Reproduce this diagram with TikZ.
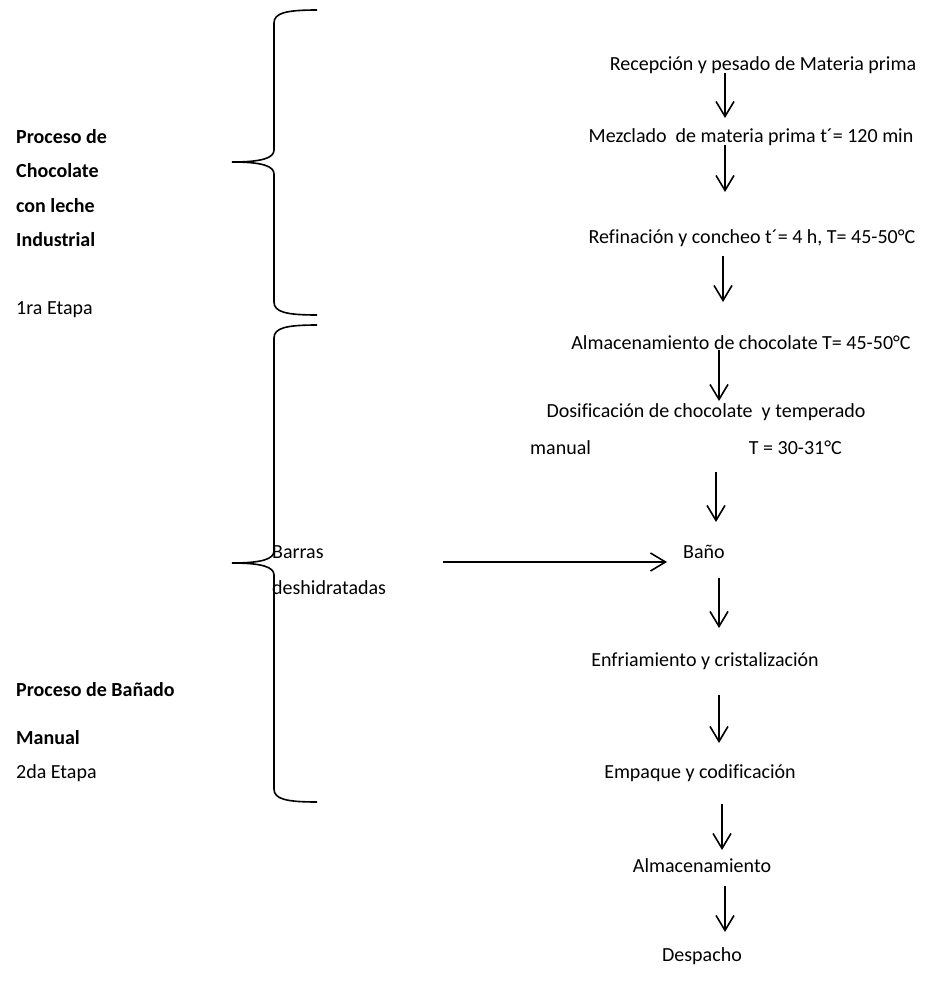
\documentclass[tikz,border=0pt]{standalone}
\usepackage{fontspec}
\setmainfont{Carlito}[Ligatures=NoCommon]
\usetikzlibrary{arrows.meta}
\begin{document}
\begin{tikzpicture}[x=1pt,y=-1pt,
  txt/.style={inner sep=0pt,anchor=base,font=\fontsize{20}{36}\selectfont},
  ltxt/.style={inner sep=0pt,anchor=base west,font=\fontsize{20}{36}\selectfont},
  btxt/.style={inner sep=0pt,anchor=base west,font=\fontsize{20}{34.5}\selectfont\bfseries,align=left},
  arr/.style={line width=1.6pt,-{Straight Barb[length=15pt,width=18pt,line width=1.6pt]}},
  brace/.style={line width=1.6pt}]
\useasboundingbox (0,0) rectangle (945,991);
% process steps
\node[txt] (s1) at (763,70) {Recepción y pesado de Materia prima};
\node[txt] (s2) at (751,142) {Mezclado\ \ de materia prima t´= 120 min};
\node[txt] (s3) at (752,243) {Refinación y concheo t´= 4 h, T= 45-50°C};
\node[txt] (s4) at (741,349) {Almacenamiento de chocolate T= 45-50°C};
\node[txt] (s5) at (706,417) {Dosificación de chocolate\ \ y temperado};
\node[ltxt] (s5b) at (530,454) {manual\hspace{158pt}T = 30-31°C};
\node[txt] (s6) at (704,558) {Baño};
\node[txt] (s7) at (705,666) {Enfriamiento y cristalización};
\node[txt] (s8) at (700,778) {Empaque y codificación};
\node[txt] (s9) at (702,872) {Almacenamiento};
\node[txt] (s10) at (702,961) {Despacho};
% side input (base anchor sits on the last line)
\node[ltxt,align=left] (barras) at (272,594) {Barras\\deshidratadas};
% left labels
\node[btxt] (p1) at (16,246.5) {Proceso de\\Chocolate\\con leche\\Industrial};
\node[ltxt] (e1) at (16,314) {1ra Etapa};
\node[btxt] (p2) at (16,696) {Proceso de Bañado};
\node[btxt] (p2b) at (16,744) {Manual};
\node[ltxt] (e2) at (16,778) {2da Etapa};
% arrow coordinates
\coordinate (a1s) at (725,73);  \coordinate (a1e) at (725,118);
\coordinate (a2s) at (725,145); \coordinate (a2e) at (725,192);
\coordinate (a3s) at (723,256); \coordinate (a3e) at (723,302);
\coordinate (a4s) at (719,350); \coordinate (a4e) at (719,401);
\coordinate (a5s) at (716,472); \coordinate (a5e) at (716,522);
\coordinate (a6s) at (719,578); \coordinate (a6e) at (719,628);
\coordinate (a7s) at (719,695); \coordinate (a7e) at (719,743);
\coordinate (a8s) at (722,804); \coordinate (a8e) at (722,850);
\coordinate (a9s) at (725,886); \coordinate (a9e) at (725,932);
\coordinate (hs) at (443,562);
\foreach \i in {1,...,9} {\draw[arr] (a\i s) -- (a\i e);}
\draw[arr] (hs) -- ([xshift=-16pt]s6.west |- hs);
% braces
\draw[brace] (317,10) .. controls (286,10) and (274,13) .. (274,23) -- (274,150)
  .. controls (274,158) and (262,162) .. (232,162)
  .. controls (262,162) and (274,166) .. (274,174) -- (274,302)
  .. controls (274,312) and (286,315) .. (317,315);
\draw[brace] (317,325) .. controls (286,325) and (274,328) .. (274,338) -- (274,551)
  .. controls (274,559) and (262,563) .. (232,563)
  .. controls (262,563) and (274,567) .. (274,575) -- (274,789)
  .. controls (274,799) and (286,802) .. (317,802);
\end{tikzpicture}
\end{document}
